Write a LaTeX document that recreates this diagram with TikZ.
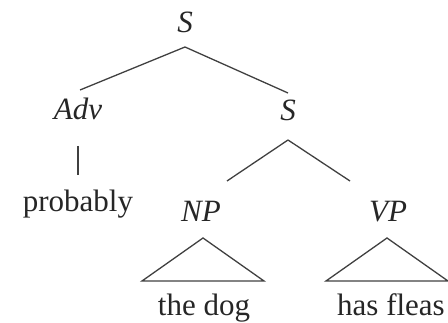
\documentclass[tikz,border=0pt]{standalone}
\usepackage{fontspec}
\setmainfont{Liberation Serif}
\usetikzlibrary{calc}

\begin{document}
\begin{tikzpicture}[x=1pt,y=-1pt,
		cat/.style={anchor=base,inner sep=0pt,text=black!85,font=\fontsize{31}{36}\selectfont\itshape},
		word/.style={anchor=base,inner sep=0pt,text=black!85,font=\fontsize{31}{36}\selectfont},
		branch/.style={line width=1.3pt,draw=black!75}]
	\useasboundingbox (0,0) rectangle (448,323);
	
	% categories
	\node[cat] (top) at (185,33) {S};
	\node[cat] (adv) at (78,120) {Adv};
	\node[cat] (s2) at (288,121) {S};
	\node[cat] (np) at (201,222) {NP};
	\node[cat] (vp) at (388,222) {VP};
	
	% words
	\node[word] (prob) at (78,212) {probably};
	\node[word] (dog) at (204,316) {the dog};
	\node[word] (fleas) at (391,316) {has fleas};
	
	% branches
	\draw[branch] ($(top.base)+(0,14)$) -- ($(adv.base)+(2,-30)$);
	\draw[branch] ($(top.base)+(0,14)$) -- ($(s2.base)+(0,-28)$);
	\draw[branch] ($(adv.base)+(0,26)$) -- ($(prob.base)+(0,-37)$);
	\draw[branch] ($(s2.base)+(0,19)$) -- ($(np.base)+(26,-41)$);
	\draw[branch] ($(s2.base)+(0,19)$) -- ($(vp.base)+(-38,-41)$);
	
	% triangles over the phrases
	\foreach \p/\dx in {np/2,vp/-1}{
		\draw[branch,line join=miter] ($(\p.base)+(\dx,16)$) -- ++(-61,43) -- ++(122,0) -- cycle;
	}
\end{tikzpicture}
\end{document}
